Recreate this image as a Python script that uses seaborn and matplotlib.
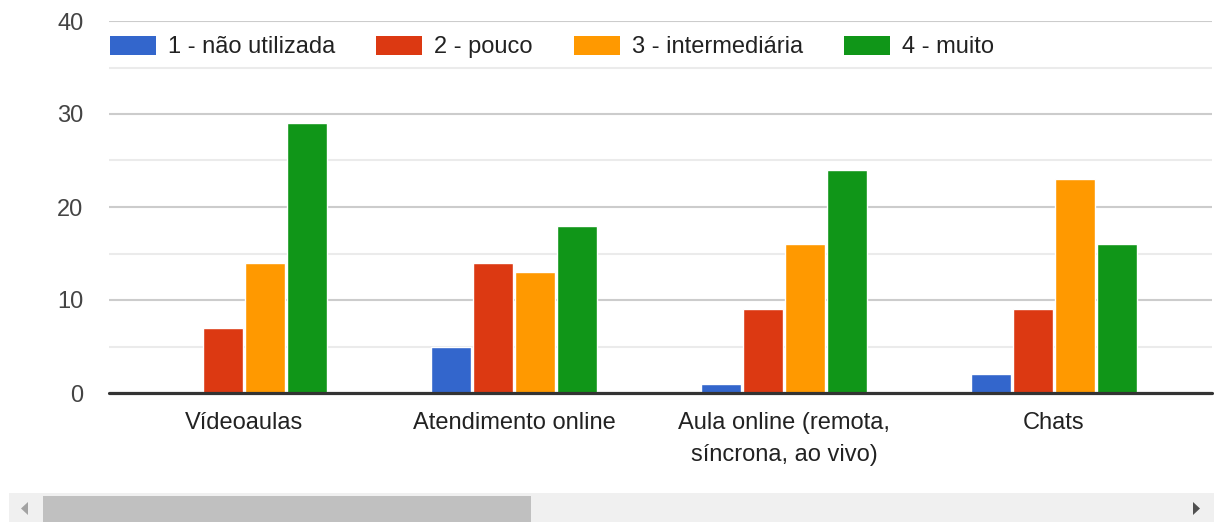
import matplotlib
matplotlib.use("Agg")
import matplotlib.pyplot as plt
from matplotlib.patches import Rectangle, Polygon, Patch
import seaborn as sns
import pandas as pd

categories = ["Vídeoaulas", "Atendimento online",
              "Aula online (remota,\nsíncrona, ao vivo)", "Chats"]
levels = ["1 - não utilizada", "2 - pouco", "3 - intermediária", "4 - muito"]
nao_utilizada = [0, 5, 1, 2]
pouco = [7, 14, 9, 9]
intermediaria = [14, 13, 16, 23]
muito = [29, 18, 24, 16]
colors = ["#3366cc", "#dc3912", "#ff9900", "#109618"]
y_ticks = [0, 10, 20, 30, 40]

series = [nao_utilizada, pouco, intermediaria, muito]
rows = []
for level, vals in zip(levels, series):
    for cat, v in zip(categories, vals):
        rows.append({"categoria": cat, "nivel": level, "valor": v})
df = pd.DataFrame(rows)

sns.set_theme(style="white")
plt.rcParams["font.family"] = ["Liberation Sans", "DejaVu Sans"]

W, H = 1214, 522
fig = plt.figure(figsize=(W / 100, H / 100), dpi=100)
ax = fig.add_axes([109 / W, 129 / H, (1212 - 109) / W, (393 - 21) / H])

sns.barplot(data=df, x="categoria", y="valor", hue="nivel",
            hue_order=levels, order=categories, palette=colors,
            width=0.622, gap=0.05, saturation=1, legend=False, ax=ax)

ax.set_xlim((109 - 244) / 270, (1212 - 244) / 270)
ax.set_ylim(0, 40)
ax.set_yticks(y_ticks)
ax.set_yticks([5, 15, 25, 35], minor=True)
ax.grid(axis="y", which="major", color="#cccccc", linewidth=1.5, zorder=0)
ax.grid(axis="y", which="minor", color="#ebebeb", linewidth=1.5, zorder=0)
ax.grid(axis="x", visible=False)
ax.set_axisbelow(True)
for s in ax.spines.values():
    s.set_visible(False)
ax.axhline(0, color="#333333", linewidth=2.3, clip_on=False, zorder=5)

ax.tick_params(axis="y", which="both", length=0, pad=18.5,
               labelsize=17, labelcolor="#444444")
ax.tick_params(axis="x", length=0, pad=14, labelsize=17, labelcolor="#222222")
for lbl in ax.get_xticklabels():
    lbl.set_linespacing(1.55)
ax.set_xlabel("")
ax.set_ylabel("")

handles = [Patch(facecolor=c, edgecolor="none") for c in colors]
ax.legend(handles, levels, loc="center left", ncol=4, frameon=False,
          bbox_to_anchor=(110 / W, 1 - 47 / H), bbox_transform=fig.transFigure,
          borderaxespad=0, borderpad=0, fontsize=17, labelcolor="#222222",
          handlelength=1.95, handleheight=0.89, handletextpad=0.51,
          columnspacing=1.74)

# horizontal scrollbar
fig.add_artist(Rectangle((9 / W, 0), (W - 9) / W, (522 - 493) / H,
                         transform=fig.transFigure, facecolor="#f0f0f0",
                         edgecolor="none"))
fig.add_artist(Rectangle((43 / W, 0), (531 - 43) / W, (522 - 496) / H,
                         transform=fig.transFigure, facecolor="#c0c0c0",
                         edgecolor="none"))
fig.add_artist(Polygon([(28 / W, 1 - 502 / H), (28 / W, 1 - 515 / H),
                        (21 / W, 1 - 508.5 / H)], closed=True,
                       transform=fig.transFigure, facecolor="#a3a3a3",
                       edgecolor="none"))
fig.add_artist(Polygon([(1193 / W, 1 - 502 / H), (1193 / W, 1 - 515 / H),
                        (1200 / W, 1 - 508.5 / H)], closed=True,
                       transform=fig.transFigure, facecolor="#505050",
                       edgecolor="none"))

fig.savefig("out.png", dpi=100, facecolor="white")
